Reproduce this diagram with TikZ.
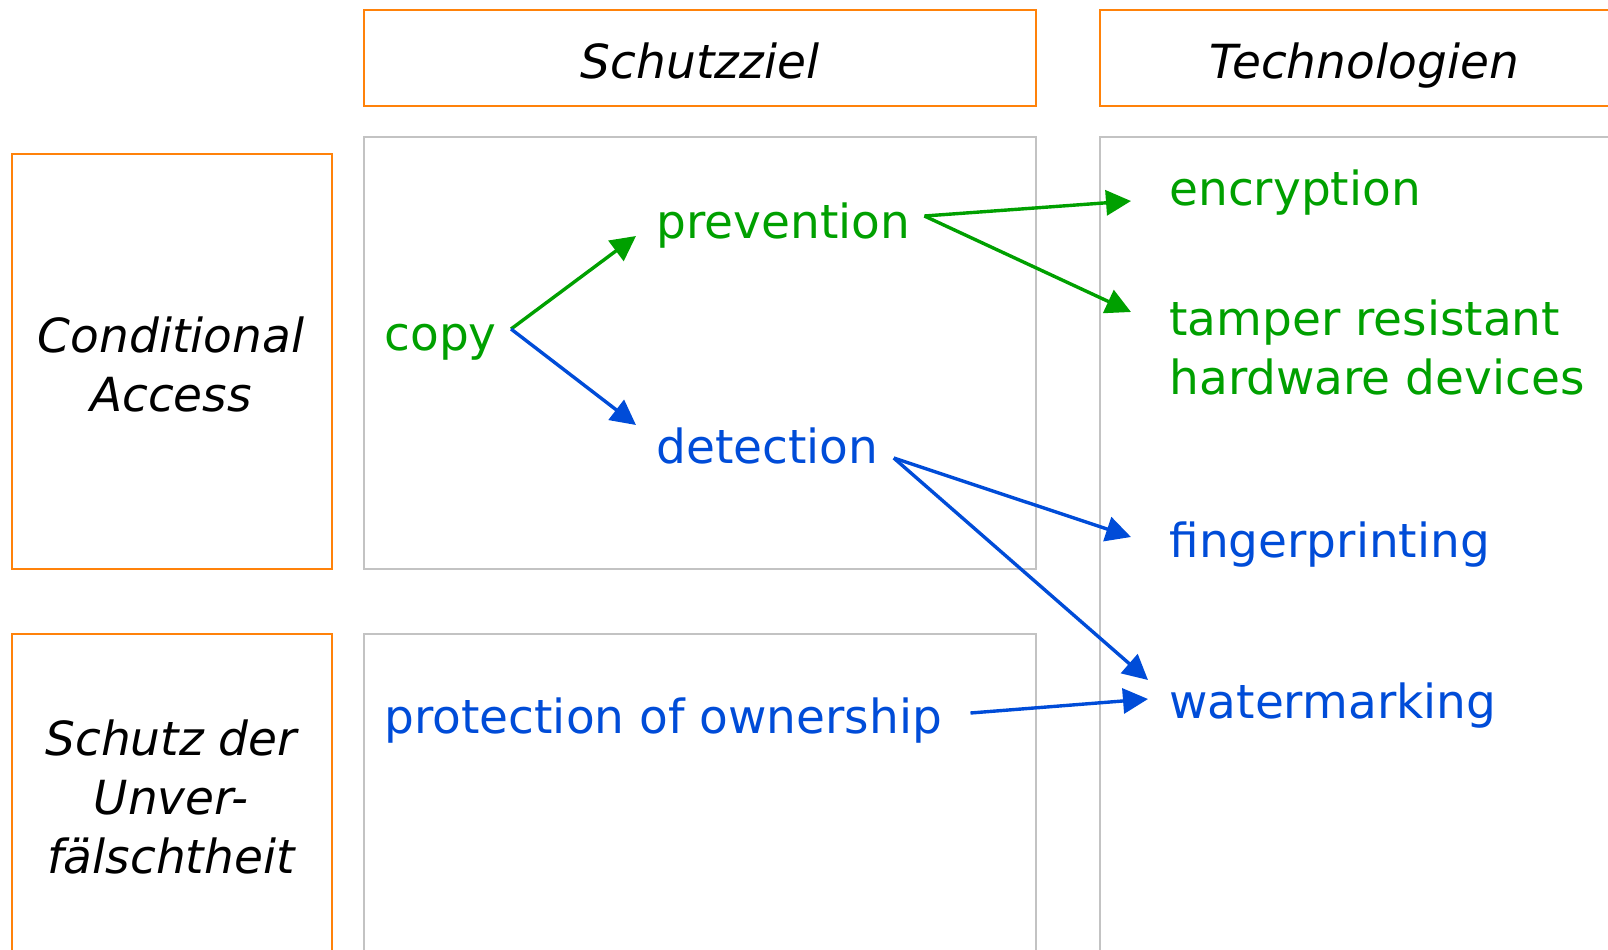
\documentclass[tikz,border=0pt]{standalone}
\usepackage{fontspec}
\setmainfont{DejaVu Sans}
\usetikzlibrary{arrows.meta}
\definecolor{rahmen}{RGB}{255,130,10}
\definecolor{kasten}{RGB}{195,195,195}
\definecolor{gruen}{RGB}{0,160,0}
\definecolor{blau}{RGB}{0,76,216}
\newcommand{\schrift}{\fontsize{23.5}{29.5}\selectfont}

\begin{document}
\begin{tikzpicture}[x=0.5pt,y=-0.5pt,font=\schrift,
  head/.style={draw=rahmen,line width=1pt},
  feld/.style={draw=kasten,line width=1pt},
  kopf/.style={font=\schrift\itshape,inner sep=0pt},
  wort/.style={inner sep=0pt,anchor=base west},
  pfeil/.style={line width=1.7pt,-{Triangle[length=12.5pt,width=12.5pt]}}]
  \useasboundingbox (0,0) rectangle (1608,949);
  % Rahmen
  \draw[head] (364,10) rectangle (1036,106);
  \draw[head] (1100,10) rectangle (1640,106);
  \draw[head] (12,154) rectangle (332,569);
  \draw[head] (12,634) rectangle (332,990);
  \draw[feld] (364,137) rectangle (1036,569);
  \draw[feld] (364,634) rectangle (1036,990);
  \draw[feld] (1100,137) rectangle (1640,990);
  % Kopfzeile und Zeilen
  \node[kopf,anchor=base] (ziel) at (700,78) {Schutzziel};
  \node[kopf,anchor=base] (tech) at (1364,78) {Technologien};
  \node[kopf,align=center] (ca) at (171,364) {Conditional\\Access};
  \node[kopf,align=center] (unv) at (171,797) {Schutz der\\Unver-\\fälschtheit};
  % Begriffe
  \node[wort,text=gruen] (copy) at (384,350) {copy};
  \node[wort,text=gruen] (prev) at (656,238) {prevention};
  \node[wort,text=blau] (det) at (656,463) {detection};
  \node[wort,text=blau] (own) at (384,733) {protection of ownership};
  \node[wort,text=gruen] (enc) at (1169,205) {encryption};
  \node[inner sep=0pt,anchor=west,align=left,text=gruen] (tamp) at (1169,347) {tamper resistant\\hardware devices};
  \node[wort,text=blau] (fing) at (1169,557) {fingerprinting};
  \node[wort,text=blau] (wat) at (1169,718) {watermarking};
  % Pfeile
  \draw[pfeil,gruen] ([shift={(7pt,10.5pt)}]copy.base east) -- ([shift={(-10pt,1pt)}]prev.base west);
  \draw[pfeil,blau] ([shift={(7pt,10.5pt)}]copy.base east) -- ([shift={(-10pt,19pt)}]det.base west);
  \draw[pfeil,gruen] ([shift={(7pt,11pt)}]prev.base east) -- ([shift={(-19pt,2pt)}]enc.base west);
  \draw[pfeil,gruen] ([shift={(7pt,11pt)}]prev.base east) -- ([shift={(-19pt,17.5pt)}]tamp.west);
  \draw[pfeil,blau] ([shift={(7.5pt,2.5pt)}]det.base east) -- ([shift={(-19pt,10pt)}]fing.base west);
  \draw[pfeil,blau] ([shift={(7.5pt,2.5pt)}]det.base east) -- ([shift={(-10.5pt,19pt)}]wat.base west);
  \draw[pfeil,blau] ([shift={(14pt,10pt)}]own.base east) -- ([shift={(-10.5pt,9.5pt)}]wat.base west);
\end{tikzpicture}
\end{document}
